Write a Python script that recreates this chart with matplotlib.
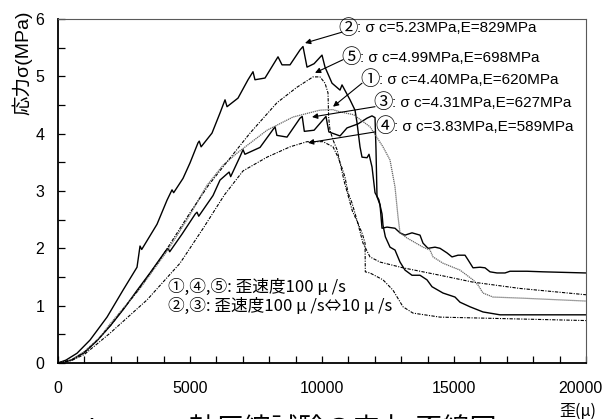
import numpy as np
import matplotlib
matplotlib.use('Agg')
import matplotlib.pyplot as plt
import matplotlib.transforms as mtransforms

plt.rcParams['font.family'] = ['Liberation Sans', 'Noto Sans CJK JP', 'DejaVu Sans']
plt.rcParams['axes.unicode_minus'] = False
CJK = ['Noto Sans CJK JP', 'DejaVu Sans']

# --- data (strain in micro, stress in MPa) ---
# (1) strain rate 100 u/s
eps_1 = [0, 500, 1000, 1591, 1970, 3106, 4129, 4886, 5644, 6250, 6780, 7917,
         8902, 9924, 10400, 10682, 11200, 11818, 12310, 12576, 12765, 12879,
         12955, 13220, 13826, 14091, 14205, 14583, 15227, 15720, 15909,
         16098, 16477, 17614, 20000]
sig_1 = [0, 0.05, 0.2, 0.45, 0.68, 1.3, 1.95, 2.5, 3.1, 3.45, 3.66, 4.06,
         4.29, 4.41, 4.42, 4.38, 4.33, 4.12, 3.77, 3.54, 3.07, 2.55,
         2.27, 2.18, 2.02, 1.97, 1.85, 1.74, 1.62, 1.45, 1.36,
         1.22, 1.15, 1.13, 1.08]

# (2) strain rate 100 <-> 10 u/s
eps_2 = [0, 300, 720, 1212, 1856, 2462, 2992, 3106, 3170, 3750, 4129, 4318,
         4380, 4735, 5000, 5303, 5350, 5420, 5833, 6136, 6326, 6402, 6818,
         7197, 7386, 7460, 7841, 8333, 8485, 8788, 9167, 9280, 9432, 9700,
         10000, 10114, 10379, 10682, 10758, 11061, 11250, 11326, 11439,
         11515, 11705, 11780, 11894, 12008, 12150, 12273, 12311, 12400,
         12576, 12765, 12955, 13144, 13409, 13712, 13977, 14167, 14583,
         15038, 15227, 15606, 16098, 16743, 20000]
sig_2 = [0, 0.05, 0.17, 0.40, 0.80, 1.27, 1.67, 2.04, 1.98, 2.42, 2.84, 3.02,
         2.97, 3.22, 3.49, 3.84, 3.87, 3.77, 4.01, 4.36, 4.59, 4.47, 4.62,
         4.94, 5.08, 4.94, 4.97, 5.34, 5.20, 5.20, 5.46, 5.52, 5.16, 5.22,
         5.37, 5.16, 4.88, 4.76, 4.85, 4.59, 4.41, 4.19, 3.77,
         3.59, 3.58, 3.64, 3.42, 2.97, 2.85, 2.60, 2.40, 2.20,
         2.02, 1.97, 1.76, 1.62, 1.53, 1.53, 1.45, 1.33, 1.22,
         1.15, 1.06, 0.98, 0.89, 0.84, 0.84]

# (3) strain rate 100 <-> 10 u/s
eps_3 = [0, 500, 1000, 1500, 2000, 2500, 3000, 3500, 4100, 4170, 4230, 4700,
         5200, 5265, 5330, 5871, 6136, 6480, 6540, 6894, 7008, 7080, 7652,
         8220, 8290, 8674, 9167, 9250, 9330, 9700, 10150, 10260, 10682,
         10947, 11364, 11705, 11894, 12008, 12045, 12083, 12197, 12273,
         12462, 12765, 12955, 13144, 13409, 13712, 13826, 14015, 14280,
         14470, 14735, 14924, 15152, 15417, 15530, 15720, 15985, 16174,
         16364, 16629, 16932, 17121, 17765, 18371, 20000]
sig_3 = [0, 0.05, 0.18, 0.40, 0.66, 0.95, 1.27, 1.58, 1.97, 2.00, 1.94, 2.25,
         2.60, 2.63, 2.56, 2.92, 3.19, 3.33, 3.25, 3.60, 3.72, 3.64, 3.76,
         4.12, 3.97, 3.94, 4.27, 4.30, 4.04, 4.06, 4.30, 4.03, 3.96,
         4.10, 4.17, 4.27, 4.31, 4.28, 3.72, 2.90, 2.76, 2.35,
         2.37, 2.35, 2.27, 2.23, 2.27, 2.23, 2.09, 2.00, 2.02,
         2.00, 1.92, 1.85, 1.88, 1.88, 1.80, 1.66, 1.67, 1.66,
         1.59, 1.57, 1.57, 1.60, 1.60, 1.59, 1.57]

# (4) strain rate 100 u/s
eps_4 = [0, 500, 1000, 1970, 3371, 4621, 5500, 6300, 7008, 7917, 8788, 9432,
         10038, 10417, 10606, 10758, 10871, 10985, 11136, 11326, 11553,
         11818, 12197, 13068, 14470, 15720, 17500, 20000]
sig_4 = [0, 0.04, 0.15, 0.52, 1.10, 1.74, 2.35, 2.93, 3.35, 3.59, 3.77, 3.86,
         3.86, 3.77, 3.59, 3.40, 3.24, 2.97, 2.79, 2.49, 2.09,
         1.85, 1.76, 1.66, 1.53, 1.41, 1.30, 1.19]

# (5) strain rate 100 u/s
eps_5 = [0, 500, 1000, 1500, 2000, 3000, 4000, 5000, 5700, 6250, 7273, 8295,
         9053, 9659, 9924, 10114, 10227, 10250, 10303, 10417, 10568, 10682,
         10850, 11000, 11150, 11350, 11530, 11630, 11640, 11818, 12311,
         12689, 13068, 13447, 14470, 20000]
sig_5 = [0, 0.05, 0.19, 0.40, 0.66, 1.25, 1.90, 2.62, 3.10, 3.42, 4.01, 4.54,
         4.81, 4.99, 4.99, 4.88, 4.71, 4.29, 4.06, 3.89, 3.72, 3.49,
         3.15, 2.90, 2.65, 2.45, 2.25, 2.09, 1.59, 1.57, 1.45,
         1.27, 0.98, 0.87, 0.80, 0.74]

marks = ['②', '⑤', '①', '③', '④']
labels = [': σ c=5.23MPa,E=829MPa',
          ': σ c=4.99MPa,E=698MPa',
          ': σ c=4.40MPa,E=620MPa',
          ': σ c=4.31MPa,E=627MPa',
          ': σ c=3.83MPa,E=589MPa']

# --- figure ---
fig = plt.figure(figsize=(6.07, 4.19), dpi=100)
ax = fig.add_axes([0.0956, 0.1337, 0.8698, 0.821])

ax.plot(eps_2, sig_2, color='k', lw=1.0)
ax.plot(eps_3, sig_3, color='k', lw=1.0)
ax.plot(eps_1, sig_1, color='0.4', lw=0.9, linestyle=(0, (1, 0.6)))
ax.plot(eps_4, sig_4, color='k', lw=0.8, linestyle=(0, (3, 1.2, 1, 1.2)))
ax.plot(eps_5, sig_5, color='k', lw=0.8, linestyle=(0, (3, 1.2, 1, 1.2)))

ax.set_xlim(0, 20000)
ax.set_ylim(0, 6)
ax.set_xticks(np.arange(0, 20001, 5000))
ax.set_xticks(np.arange(0, 20001, 1000), minor=True)
ax.set_yticks(np.arange(0, 7, 1))
ax.set_yticks(np.arange(0, 6.01, 0.5), minor=True)
ax.tick_params(which='both', direction='in', length=5, width=0.9,
               top=False, right=False, labelsize=11.5)
ax.tick_params(axis='x', pad=13)
ax.tick_params(axis='y', pad=10)

# last x tick label sits a little left so it stays inside the figure
last = ax.get_xticklabels()[-1]
last.set_transform(last.get_transform() +
                   mtransforms.ScaledTranslation(-6 / 100, 0, fig.dpi_scale_trans))

for side in ['left', 'bottom']:
    ax.spines[side].set_linewidth(1.3)
for side in ['top', 'right']:
    ax.spines[side].set_linewidth(0.8)
    ax.spines[side].set_color('0.35')

# annotations: label position, arrow tail, arrow head
text_pos = [(10606, 5.84), (10720, 5.32), (11440, 4.94),
            (11932, 4.54), (12008, 4.12)]
tails = [(10758, 5.77), (10795, 5.29), (11515, 4.88),
         (12008, 4.47), (12008, 4.03)]
heads = [(9356, 5.58), (9735, 5.06), (10417, 4.47),
         (9621, 4.29), (9470, 3.84)]
for mk, lab, tp, tl, hd in zip(marks, labels, text_pos, tails, heads):
    ax.text(tp[0], tp[1], mk, fontsize=14, family=CJK,
            ha='left', va='center')
    ax.annotate(lab, xy=tp, xytext=(14, 0), textcoords='offset points',
                fontsize=11, ha='left', va='center')
    ax.annotate('', xy=hd, xytext=tl,
                arrowprops=dict(arrowstyle='-|>', color='k', lw=0.8,
                                mutation_scale=8, shrinkA=0, shrinkB=0))

ax.text(4167, 1.31, '①,④,⑤: 歪速度100 μ /s', fontsize=12, family=CJK,
        ha='left', va='center')
ax.text(4167, 0.98, '②,③: 歪速度100 μ /s⇔10 μ /s', fontsize=12, family=CJK,
        ha='left', va='center')

# axis labels
fig.text(0.036, 0.85, '応力σ(MPa)', rotation=90, fontsize=14,
         ha='center', va='center')
fig.text(0.952, 0.018, '歪(μ)', fontsize=11.5, family=CJK,
         ha='center', va='center')

# caption, cut off by the bottom edge as in the source page
fig.text(0.12, -0.045, 'Fig.3', fontsize=20, ha='left', va='baseline')
fig.text(0.268, -0.045, '一軸圧縮試験の応力-歪線図', fontsize=19.5,
         ha='left', va='baseline')

fig.savefig('out.png', dpi=100)
